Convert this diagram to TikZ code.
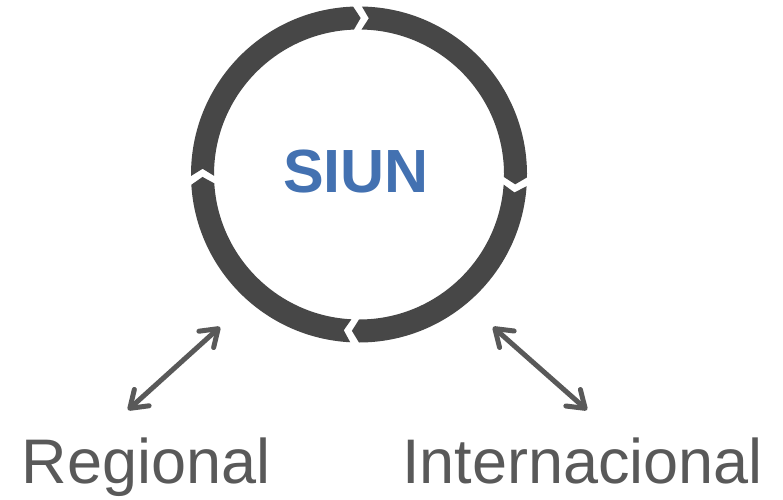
\documentclass[tikz,border=0pt]{standalone}
\usepackage{fontspec}
\setmainfont{Liberation Sans}
\usetikzlibrary{arrows.meta}
\definecolor{ringgray}{HTML}{474747}
\definecolor{txtgray}{HTML}{595959}
\definecolor{siunblue}{HTML}{4371B1}
\tikzset{
  ringpiece/.style={fill=ringgray},
  link/.style={draw=txtgray, line width=5pt, line cap=round,
    {Straight Barb[round,length=16pt,width=22pt]}-{Straight Barb[round,length=16pt,width=22pt]}},
  label/.style={text=txtgray, font=\fontsize{63}{63}\selectfont, anchor=base, inner sep=0pt},
  title/.style={text=siunblue, font=\fontsize{61}{61}\selectfont\bfseries, inner sep=0pt}
}
\newcommand{\ringseg}[2]{%
  \pgfmathsetmacro{\aone}{#1-1.5}%
  \pgfmathsetmacro{\atwo}{#2+1.5}%
  \pgfmathsetmacro{\atip}{\atwo-2.6}%
  \pgfmathsetmacro{\anot}{\aone-2.6}%
  \fill[ringpiece, shift={(359pt,324.5pt)}]
    (\aone:168pt) arc[start angle=\aone, end angle=\atwo, radius=168pt]
    -- (\atip:156.5pt) -- (\atwo:145pt)
    arc[start angle=\atwo, end angle=\aone, radius=145pt]
    -- (\anot:156.5pt) -- cycle;}
\begin{document}
\begin{tikzpicture}[x=1pt,y=1pt]
\useasboundingbox (0,0) rectangle (783,499);
\ringseg{90.5}{-2.5}
\ringseg{-2.5}{-91.5}
\ringseg{-91.5}{-178}
\ringseg{-178}{-269.5}
\node[title] (siun) at (356,328) {SIUN};
\node[label] (reg) at (146,16) {Regional};
\node[label] (int) at (582.5,16) {Internacional};
\coordinate (la) at (128,89);
\coordinate (lb) at (220,172);
\coordinate (ra) at (493,172);
\coordinate (rb) at (587,89);
\draw[link] (la) -- (lb);
\draw[link] (ra) -- (rb);
\end{tikzpicture}
\end{document}
